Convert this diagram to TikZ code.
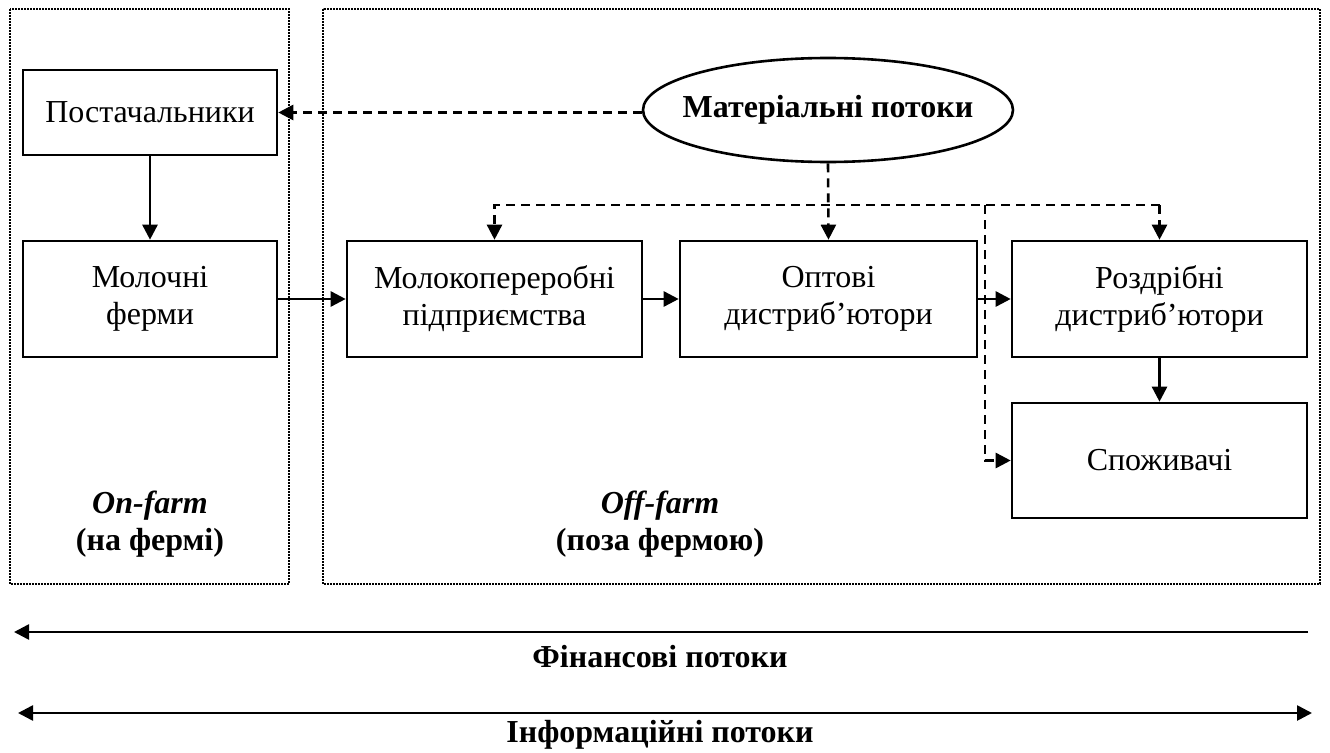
\documentclass[tikz,border=0pt]{standalone}
\usepackage{fontspec}
\setmainfont{Liberation Serif}
\usetikzlibrary{arrows.meta,shapes.geometric}
\begin{document}
\begin{tikzpicture}[x=1pt,y=-1pt,
  every node/.style={font=\fontsize{32}{37}\selectfont},
  box/.style={draw,line width=2.6pt,align=center,inner sep=0pt},
  frame/.style={line width=2.2pt,dash pattern=on 1.6pt off 1.4pt},
  arr/.style={line width=2.6pt,-{Triangle[length=15pt,width=15pt]}},
  arrb/.style={line width=2.6pt,{Triangle[length=15pt,width=15pt]}-{Triangle[length=15pt,width=15pt]}},
  dsh/.style={arr,dash pattern=on 9pt off 6pt},
  lbl/.style={align=center,inner sep=0pt}
]
\useasboundingbox (0,0) rectangle (1330,752);
% frames
\draw[frame] (10,9) rectangle (289,584);
\draw[frame] (323,9) rectangle (1320,584);
% nodes
\node[box,minimum width=254pt,minimum height=85pt] (sup) at (150,112.5) {Постачальники};
\node[box,minimum width=254pt,minimum height=116pt] (farm) at (150,299) {Молочні\\ферми};
\node[box,minimum width=295pt,minimum height=116pt] (proc) at (494.5,299) {Молокопереробні\\підприємства};
\node[box,minimum width=297pt,minimum height=116pt] (whole) at (828.5,299) {Оптові\\дистриб’ютори};
\node[box,minimum width=295pt,minimum height=116pt] (retail) at (1159.5,299) {Роздрібні\\дистриб’ютори};
\node[box,minimum width=295pt,minimum height=115pt] (cons) at (1159.5,460.5) {Споживачі};
\node[draw,ellipse,line width=2.6pt,minimum width=370pt,minimum height=104pt,inner sep=0pt] (mat) at (828,110) {\makebox[0pt]{\textbf{Матеріальні потоки}}};
% labels
\node[lbl] (on) at (150,524) {\textbf{\textit{On-farm}}\\\textbf{(на фермі)}};
\node[lbl] (off) at (660,524) {\textbf{\textit{Off-farm}}\\\textbf{(поза фермою)}};
% solid arrows
\draw[arr] (sup.south) -- (farm.north);
\draw[arr] (farm.east) -- (proc.west);
\draw[arr] (proc.east) -- (whole.west);
\draw[arr] (whole.east) -- (retail.west);
\draw[arr] (retail.south) -- (cons.north);
% dashed arrows
\coordinate (bus) at (828,205);
\coordinate (br) at (985,205);
\draw[dsh] (mat.west |- sup.east) -- (sup.east);
\draw[dsh] (mat.south) -- (whole.north);
\draw[dsh] (bus -| retail.north) -- (bus -| proc.north) -- (proc.north);
\draw[dsh] (bus -| retail.north) -- (retail.north);
\draw[dsh] (br) |- (cons.west);
% bottom flows
\coordinate (finL) at (14,632);
\coordinate (finR) at (1308,632);
\coordinate (infL) at (18,713);
\coordinate (infR) at (1312,713);
\draw[arr] (finR) -- (finL);
\draw[arrb] (infL) -- (infR);
\node[lbl] (fin) at (660,657) {\textbf{Фінансові потоки}};
\node[lbl] (inf) at (660,735) {\textbf{Інформаційні потоки}};
\end{tikzpicture}
\end{document}
